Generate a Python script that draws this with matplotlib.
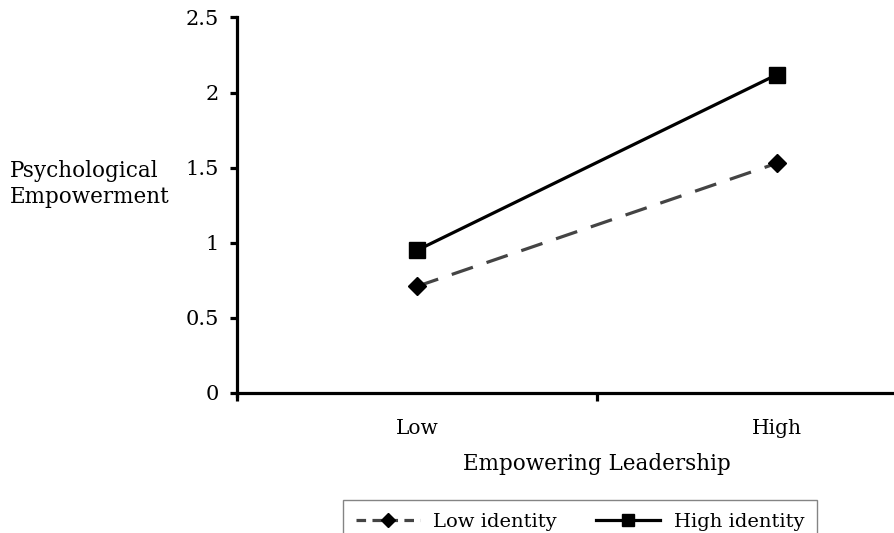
"""Interaction plot: empowering leadership x identity on psychological empowerment."""

import matplotlib

matplotlib.use("Agg")
from matplotlib import pyplot as plt

categories = ["Low", "High"]
low_identity = [0.71, 1.53]
high_identity = [0.95, 2.12]
y_ticks = [0, 0.5, 1, 1.5, 2, 2.5]
y_tick_labels = ["0", "0.5", "1", "1.5", "2", "2.5"]

plt.rcParams["font.family"] = ["DejaVu Serif"]
plt.rcParams["font.size"] = 14.5

fig = plt.figure(figsize=(8.94, 5.33), dpi=100)
ax = fig.add_axes([237 / 894, 140 / 533, 720 / 894, 375.5 / 533])

x = list(range(len(categories)))
ax.plot(
    x,
    low_identity,
    color="#444444",
    linewidth=2.3,
    dashes=(7, 4.5),
    marker="D",
    markersize=9.5,
    markerfacecolor="black",
    markeredgecolor="black",
    label="Low identity",
)
ax.plot(
    x,
    high_identity,
    color="black",
    linewidth=2.3,
    marker="s",
    markersize=11,
    label="High identity",
)

# Axis formatting
ax.set_xlim(-0.5, 1.5)
ax.set_ylim(0, 2.5)
for side in ("top", "right"):
    ax.spines[side].set_visible(False)
for side in ("left", "bottom"):
    ax.spines[side].set_linewidth(2.3)
ax.spines["left"].set_bounds(-0.02, 2.5)

ax.set_yticks(y_ticks)
ax.set_yticklabels(y_tick_labels)
ax.tick_params(axis="y", direction="out", length=5, width=2.3, pad=8,
               labelsize=15)

# Boundary ticks on x, category labels at the centres
ax.set_xticks([-0.5, 0.5, 1.5])
ax.set_xticklabels([])
ax.tick_params(axis="x", which="major", direction="out", length=6, width=2.3)
ax.set_xticks(x, minor=True)
ax.set_xticklabels(categories, minor=True)
ax.tick_params(axis="x", which="minor", length=0, pad=19, labelsize=14.5)

ax.set_xlabel("Empowering Leadership", fontsize=15.5)
ax.xaxis.set_label_coords(0.5, -0.16)
fig.text(10 / 894, 1 - 184 / 533, "Psychological\nEmpowerment",
         ha="left", va="center", fontsize=15.5, linespacing=1.2)

leg = fig.legend(
    loc="upper left",
    bbox_to_anchor=(343 / 894, 1 - 500 / 533),
    ncol=2,
    frameon=True,
    fancybox=False,
    edgecolor="#666666",
    fontsize=14,
    handlelength=3.3,
    handletextpad=0.7,
    columnspacing=2.0,
    markerscale=0.8,
    borderpad=0.65,
    borderaxespad=0,
)
leg.get_frame().set_linewidth(1.0)
# shorter dashes in the legend key
leg.get_lines()[0].set_dashes((3, 2))

fig.savefig("out.png", dpi=100)
